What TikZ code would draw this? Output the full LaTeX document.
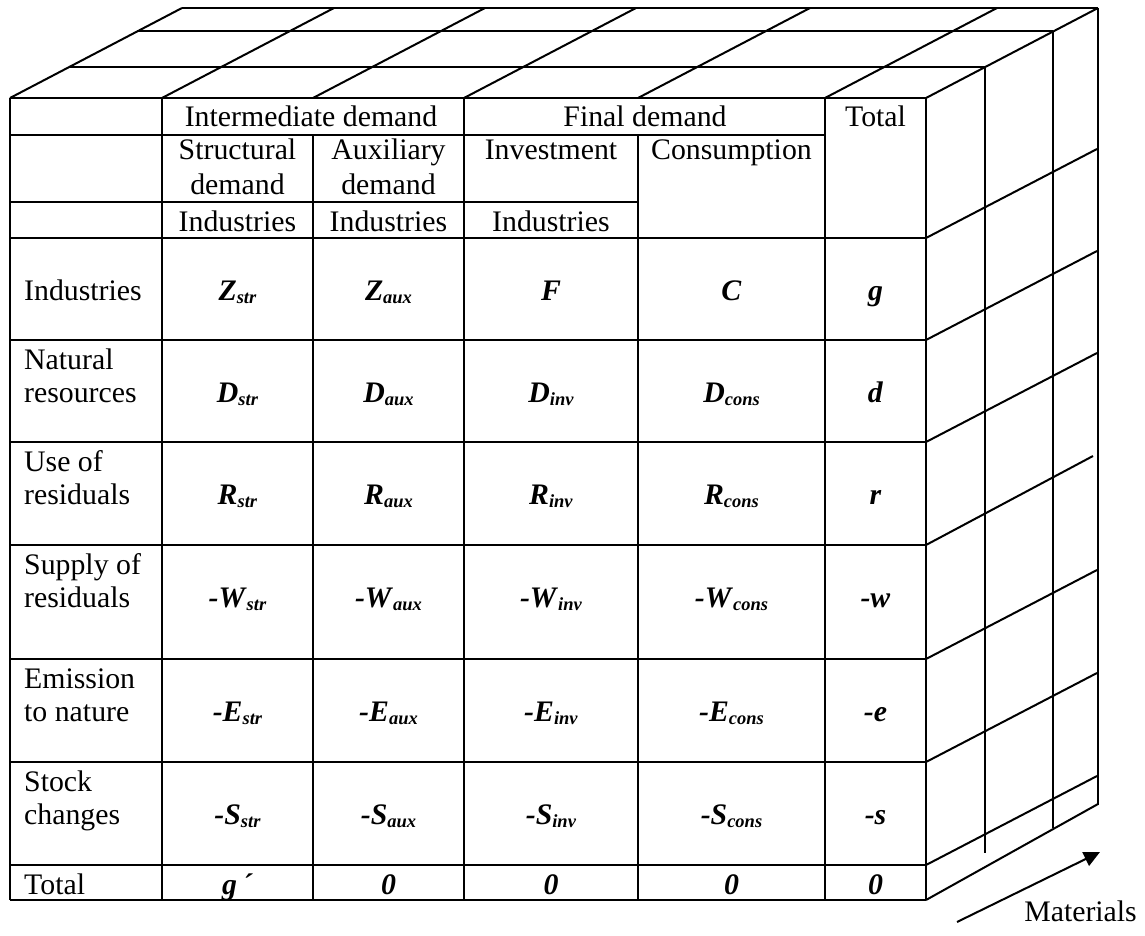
\documentclass[tikz,border=0pt]{standalone}
\usepackage{fontspec}
\setmainfont{Liberation Serif}
\usetikzlibrary{arrows.meta}
\newcommand\bi[1]{\textbf{\textit{#1}}}
\newcommand\sbx[1]{\raisebox{-3.5pt}{\fontsize{18.5}{18.5}\selectfont\bi{#1}}}
\newcommand\ent[2]{\bi{#1}\sbx{#2}}
\begin{document}
\begin{tikzpicture}[x=1pt,y=-1pt,font=\fontsize{29.8}{34}\selectfont,
  tbl/.style={line width=1.3pt},
  persp/.style={line width=2pt},
  lbl/.style={anchor=base west,inner sep=0pt},
  ctr/.style={anchor=base,inner sep=0pt}]
\useasboundingbox (0,0) rectangle (1145,936);
% ---------- table grid ----------
\draw[tbl] (10,98) -- (926,98);
\draw[tbl] (10,135) -- (825,135);
\draw[tbl] (10,202) -- (638,202);
\foreach \r in {238,340,442,545,659,762,865,900} \draw[tbl] (10,\r) -- (926,\r);
\foreach \c in {10,162,464,825,926} \draw[tbl] (\c,98) -- (\c,900);
\foreach \c in {313,638} \draw[tbl] (\c,135) -- (\c,900);
% ---------- top face ----------
\foreach \c in {10,162,313,464,638,825,926} \draw[persp] (\c,98) -- ++(172,-90);
\draw[persp] (69,67) -- (985,67);
\draw[persp] (137,31.5) -- (1053,31.5);
\draw[persp] (182,8) -- (1098,8);
% ---------- right face ----------
\draw[persp] (985,67) -- (985,853);
\draw[persp] (1053,31.5) -- (1053,828);
\draw[persp] (1098,8) -- (1098,805);
\foreach \r in {238,340,442,659,762,865} \draw[persp] (926,\r) -- ++(171,-89);
\draw[persp] (926,545) -- (1093,456);
\draw[persp] (926,900) -- (1098,804);
% ---------- arrow ----------
\coordinate (arrS) at (957,922);
\coordinate (arrE) at (1100,852);
\draw[persp,-{Triangle[length=16pt,width=15pt]}] (arrS) -- (arrE);
\node[anchor=base east,inner sep=0pt] (mat) at (1137,921) {Materials};
% ---------- header ----------
\node[ctr] (hid) at (311,127) {Intermediate demand};
\node[ctr] (hfd) at (645,127) {Final demand};
\node[ctr] (htot) at (875.5,127) {Total};
\node[ctr] (hs1) at (237.5,160) {Structural};
\node[ctr] (hs2) at (237.5,194) {demand};
\node[ctr] (ha1) at (388.5,160) {Auxiliary};
\node[ctr] (ha2) at (388.5,194) {demand};
\node[ctr] (hinv) at (551,160) {Investment};
\node[ctr] (hcon) at (731.5,160) {Consumption};
\node[ctr] (hi1) at (237.5,231) {Industries};
\node[ctr] (hi2) at (388.5,231) {Industries};
\node[ctr] (hi3) at (551,231) {Industries};
% ---------- row labels ----------
\node[lbl] (l1) at (24,300) {Industries};
\node[lbl] (l2a) at (24,369) {Natural};
\node[lbl] (l2b) at (24,402) {resources};
\node[lbl] (l3a) at (24,471) {Use of};
\node[lbl] (l3b) at (24,504) {residuals};
\node[lbl] (l4a) at (24,574) {Supply of};
\node[lbl] (l4b) at (24,607) {residuals};
\node[lbl] (l5a) at (24,688) {Emission};
\node[lbl] (l5b) at (24,721) {to nature};
\node[lbl] (l6a) at (24,791) {Stock};
\node[lbl] (l6b) at (24,824) {changes};
\node[lbl] (l7) at (24,894) {Total};
% ---------- entries ----------
\node[ctr] (z1) at (237.5,300) {\ent{Z}{str}};
\node[ctr] (z2) at (388.5,300) {\ent{Z}{aux}};
\node[ctr] (z3) at (551,300) {\bi{F}};
\node[ctr] (z4) at (731.5,300) {\bi{C}};
\node[ctr] (z5) at (875.5,300) {\bi{g}};
\node[ctr] (d1) at (237.5,402) {\ent{D}{str}};
\node[ctr] (d2) at (388.5,402) {\ent{D}{aux}};
\node[ctr] (d3) at (551,402) {\ent{D}{inv}};
\node[ctr] (d4) at (731.5,402) {\ent{D}{cons}};
\node[ctr] (d5) at (875.5,402) {\bi{d}};
\node[ctr] (r1) at (237.5,504) {\ent{R}{str}};
\node[ctr] (r2) at (388.5,504) {\ent{R}{aux}};
\node[ctr] (r3) at (551,504) {\ent{R}{inv}};
\node[ctr] (r4) at (731.5,504) {\ent{R}{cons}};
\node[ctr] (r5) at (875.5,504) {\bi{r}};
\node[ctr] (w1) at (237.5,607) {\ent{-W}{str}};
\node[ctr] (w2) at (388.5,607) {\ent{-W}{aux}};
\node[ctr] (w3) at (551,607) {\ent{-W}{inv}};
\node[ctr] (w4) at (731.5,607) {\ent{-W}{cons}};
\node[ctr] (w5) at (875.5,607) {\bi{-w}};
\node[ctr] (e1) at (237.5,721) {\ent{-E}{str}};
\node[ctr] (e2) at (388.5,721) {\ent{-E}{aux}};
\node[ctr] (e3) at (551,721) {\ent{-E}{inv}};
\node[ctr] (e4) at (731.5,721) {\ent{-E}{cons}};
\node[ctr] (e5) at (875.5,721) {\bi{-e}};
\node[ctr] (s1) at (237.5,824) {\ent{-S}{str}};
\node[ctr] (s2) at (388.5,824) {\ent{-S}{aux}};
\node[ctr] (s3) at (551,824) {\ent{-S}{inv}};
\node[ctr] (s4) at (731.5,824) {\ent{-S}{cons}};
\node[ctr] (s5) at (875.5,824) {\bi{-s}};
\node[ctr] (t1) at (237.5,894) {\bi{g\,´}};
\node[ctr] (t2) at (388.5,894) {\bi{0}};
\node[ctr] (t3) at (551,894) {\bi{0}};
\node[ctr] (t4) at (731.5,894) {\bi{0}};
\node[ctr] (t5) at (875.5,894) {\bi{0}};
\end{tikzpicture}
\end{document}
